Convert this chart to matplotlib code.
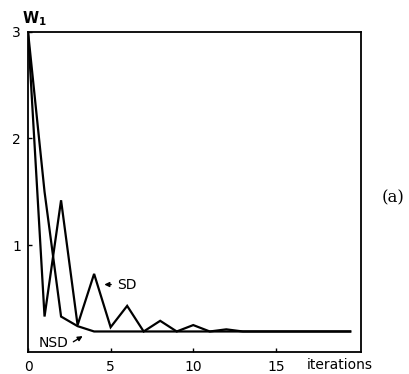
import matplotlib
matplotlib.use("Agg")
import matplotlib.pyplot as plt

# values
iters = [0, 1, 2, 3, 4, 5, 6, 7, 8, 9, 10, 11, 12, 13, 14, 15, 16, 17, 18, 19, 19.5]
sd = [3.0, 0.33, 1.42, 0.25, 0.73, 0.23, 0.43, 0.19, 0.29, 0.19, 0.25, 0.19, 0.21,
      0.19, 0.19, 0.19, 0.19, 0.19, 0.19, 0.19, 0.19]
nsd = [3.0, 1.5, 0.33, 0.24, 0.19, 0.19, 0.19, 0.19, 0.19, 0.19, 0.19, 0.19, 0.19,
       0.19, 0.19, 0.19, 0.19, 0.19, 0.19, 0.19, 0.19]
xticks = [0, 5, 10, 15]
yticks = [1, 2, 3]

fig = plt.figure(figsize=(4.09, 3.74), dpi=100)
ax = fig.add_axes([0.0685, 0.0595, 0.814, 0.8557])

ax.plot(iters, sd, color="black", lw=1.6, solid_joinstyle="miter")
ax.plot(iters, nsd, color="black", lw=1.6, solid_joinstyle="miter")

ax.set_xlim(0, 20.15)
ax.set_ylim(0, 3)
ax.set_xticks(xticks)
ax.set_yticks(yticks)
ax.tick_params(direction="in", length=3, width=1, labelsize=10)
ax.tick_params(axis="x", pad=6)
ax.tick_params(axis="y", pad=5)
for s in ax.spines.values():
    s.set_linewidth(1.3)

# SD label with arrow pointing left to the peak
ax.annotate("", xy=(4.45, 0.63), xytext=(5.2, 0.63),
            arrowprops=dict(arrowstyle="-|>", color="black", lw=1, mutation_scale=7))
ax.text(5.4, 0.63, "SD", fontsize=10, va="center", ha="left")

# NSD label with arrow pointing up-right
ax.annotate("", xy=(3.45, 0.16), xytext=(2.6, 0.08),
            arrowprops=dict(arrowstyle="-|>", color="black", lw=1, mutation_scale=7))
ax.text(2.45, 0.08, "NSD", fontsize=10, va="center", ha="right")

fig.text(34 / 409, 1 - 19 / 374, r"W$_\mathbf{1}$", fontsize=10.5, fontweight="bold",
         ha="center", va="center")
fig.text(340 / 409, 1 - 365 / 374, "iterations", fontsize=10, ha="center", va="center")
fig.text(393 / 409, 1 - 198 / 374, "(a)", fontsize=12, family="DejaVu Serif",
         ha="center", va="center")

fig.savefig("out.png", dpi=100)
